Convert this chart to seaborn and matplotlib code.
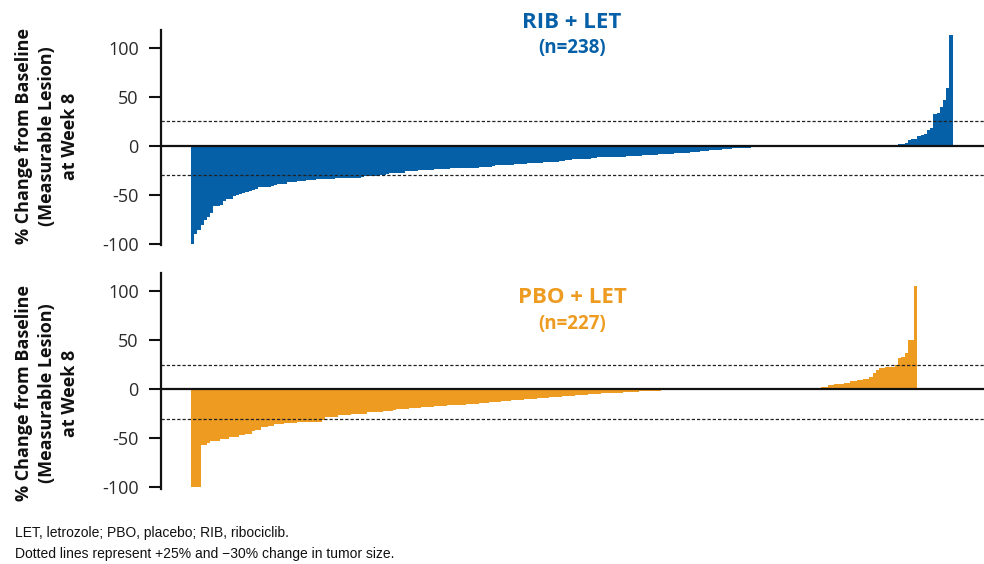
import matplotlib
matplotlib.use("Agg")
import matplotlib.pyplot as plt
import seaborn as sns
import pandas as pd

# % change from baseline in measurable lesion at week 8, one value per patient (sorted)
rib_change = [
    -100, -90.5, -86, -81, -76, -73, -69, -62, -61.5, -60,
    -56, -54.5, -54, -51, -50.5, -49, -48.5, -47.5, -46, -45.5,
    -44.5, -42.5, -42.5, -42, -42, -41, -40.5, -39.5, -39.5, -39,
    -37.5, -37.5, -37, -36.5, -36.5, -36, -35, -35, -34.5, -34,
    -34, -34, -34, -33.5, -33.5, -33, -33, -33, -33, -32.5,
    -32.5, -32.5, -32.5, -32, -31, -31, -31, -30.5, -29.5, -29.5,
    -29.5, -29, -28, -28, -28, -27.5, -27.5, -26, -26, -26,
    -25.5, -24.5, -24.5, -24.5, -24.5, -24.5, -24, -24, -24, -24,
    -23.5, -23, -23, -23, -23, -23, -22.5, -22.5, -22.5, -22.5,
    -22, -22, -22, -22, -20.5, -20, -20, -20, -20, -20,
    -19.5, -19, -19, -19, -19, -18, -17.7, -17.7, -17.5, -17.5,
    -16.7, -16.7, -16.5, -16.5, -16.5, -15.5, -15.3, -15, -15, -14,
    -14, -14, -13.5, -13.5, -13.5, -13, -13, -12, -12, -12,
    -12, -11.5, -11, -11, -11, -11, -10.5, -10, -10, -10,
    -10, -9.5, -9, -9, -9, -9, -8.5, -8, -8, -8,
    -8, -7.5, -7, -7, -7, -7, -6, -6, -6, -5,
    -5, -5, -4.5, -4.5, -4.5, -4.5, -3.5, -3.5, -3.5, -2.7,
    -2.7, -2.7, -2, -2, -2, -1.5, -1.5, -1, -0.8,
    0, 0, 0, 0, 0, 0, 0, 0, 0, 0,
    0, 0, 0, 0, 0, 0, 0, 0, 0, 0,
    0, 0, 0, 0, 0, 0, 0, 0, 0, 0,
    0, 0, 0, 0, 0, 0, 0, 0, 0, 0,
    0, 0,
    1.5, 2, 3, 6, 6.5, 7, 10, 11, 12, 16,
    18, 32, 33, 40, 47, 59, 113,
]

pbo_change = [
    -100, -100, -100, -56.5, -56.5, -54.8, -53, -53, -53, -50.7,
    -50.7, -50.7, -49, -49, -49, -46.3, -46.3, -45.3, -45.3, -42.9,
    -41.2, -41.2, -38.8, -38.8, -37.1, -37.1, -35.4, -35.4, -35.4, -34,
    -34, -34, -34, -33, -33, -33, -33, -33, -33, -33,
    -33, -31, -28.6, -28.6, -28.6, -28.6, -26.2, -26.2, -26.2, -26.2,
    -25.2, -25.2, -25.2, -25.2, -25.2, -23.5, -23.5, -23.5, -23.5, -23.5,
    -22.5, -22.5, -22, -21, -20.5, -20.5, -20, -20, -19.5, -19.5,
    -19, -19, -18.5, -18.5, -18, -18, -17.5, -17.5, -17, -17,
    -16.5, -16.5, -16, -16, -15.5, -15.5, -15, -15, -14.5, -14.5,
    -14.3, -14, -13.5, -13, -13, -12.6, -12.5, -12, -12, -11.5,
    -11, -11, -10.5, -10.5, -10, -10, -9.5, -9.5, -9.2, -9,
    -8.5, -8.5, -8, -8, -7.5, -7.5, -7, -7, -6.5, -6.5,
    -6, -5.8, -5.5, -5.5, -5, -5, -4.5, -4.5, -4.2, -4,
    -4, -3.8, -3.6, -3.5, -3.4, -3, -3, -2.8, -2.5, -2.5,
    -2, -2, -1.8, -1.5, -1.5, -1.4, -1.2, -1, -0.8, -0.5,
    0, 0, 0, 0, 0, 0, 0, 0, 0, 0,
    0, 0, 0, 0, 0, 0, 0, 0, 0, 0,
    0, 0, 0, 0, 0, 0, 0, 0, 0, 0,
    0, 0, 0, 0, 0, 0, 0, 0, 0, 0,
    0, 0, 0, 0, 0, 0, 0,
    2, 2, 4, 4.2, 5.2, 5.4, 5.6, 6.8, 6.8, 8,
    8.2, 9.4, 9.6, 10.4, 10.6, 12.9, 16.3, 19.7, 22, 22.2,
    22.4, 22.6, 22.8, 24.8, 32, 32.5, 37.3, 50, 50.5, 105.4,
]

arm_names = ["RIB + LET", "PBO + LET"]
arm_counts = ["(n=238)", "(n=227)"]
arm_colors = ["#0560A8", "#EE9B21"]
thresholds = [25, -30]
y_ticks = [-100, -50, 0, 50, 100]
y_tick_labels = ["-100", "-50", "0", "50", "100"]
y_title = "% Change from Baseline\n(Measurable Lesion)\nat Week 8"
footnotes = [
    "LET, letrozole; PBO, placebo; RIB, ribociclib.",
    "Dotted lines represent +25% and \u221230% change in tumor size.",
]

sns.set_style("white")
plt.rcParams["font.family"] = ["Open Sans", "DejaVu Sans"]

W, H = 984, 564
fig = plt.figure(figsize=(W / 100, H / 100), dpi=100)


def fx(px):
    return px / W


def fy(py):
    return 1 - py / H


panels = [
    dict(values=rib_change, top=29.7, bottom=245.0, title_y=(28.3, 53.5), label_y=136.5),
    dict(values=pbo_change, top=273.3, bottom=488.6, title_y=(303.0, 329.3), label_y=393.0),
]

for k, p in enumerate(panels):
    ax = fig.add_axes([fx(161), fy(p["bottom"]), fx(984 - 161), (p["bottom"] - p["top"]) / H])
    df = pd.DataFrame({"patient": range(len(p["values"])), "change": p["values"]})
    sns.barplot(data=df, x="patient", y="change", ax=ax, color=arm_colors[k],
                saturation=1, width=1.0, linewidth=0, errorbar=None)
    ax.set_xlim(-9.9, 247.3)
    ax.set_ylim(-101.3, 118.4)
    ax.set_xticks([])
    ax.set_xlabel("")
    ax.set_ylabel("")
    ax.set_yticks(y_ticks)
    ax.set_yticklabels(y_tick_labels)
    ax.tick_params(axis="y", direction="out", length=9, width=1.5, pad=7,
                   labelsize=13, colors="#111111", left=True)
    for lbl in ax.get_yticklabels():
        lbl.set_color("#2a2a2a")
    for side in ["top", "right", "bottom"]:
        ax.spines[side].set_visible(False)
    ax.spines["left"].set_linewidth(1.6)
    ax.spines["left"].set_color("#111111")
    ax.axhline(0, color="#111111", lw=1.6, zorder=3)
    for t in thresholds:
        ax.axhline(t, color="#222222", lw=0.9, linestyle=(0, (2.6, 1.6)), zorder=3)

    fig.text(fx(572), fy(p["title_y"][0]), arm_names[k], ha="center", va="baseline",
             fontsize=16, fontweight="bold", color=arm_colors[k])
    fig.text(fx(572), fy(p["title_y"][1]), arm_counts[k], ha="center", va="baseline",
             fontsize=13.5, fontweight="bold", color=arm_colors[k])
    fig.text(fx(47), fy(p["label_y"]), y_title, rotation=90, ha="center", va="center",
             multialignment="center", fontsize=13, fontweight="bold",
             color="#111111", linespacing=1.35)

fig.text(fx(15), fy(537.5), footnotes[0], ha="left", va="baseline", fontsize=10,
         family=["Liberation Sans", "DejaVu Sans"], color="#111111")
fig.text(fx(15), fy(558.3), footnotes[1], ha="left", va="baseline", fontsize=10,
         family=["Liberation Sans", "DejaVu Sans"], color="#111111")

fig.savefig("out.png", dpi=100)
